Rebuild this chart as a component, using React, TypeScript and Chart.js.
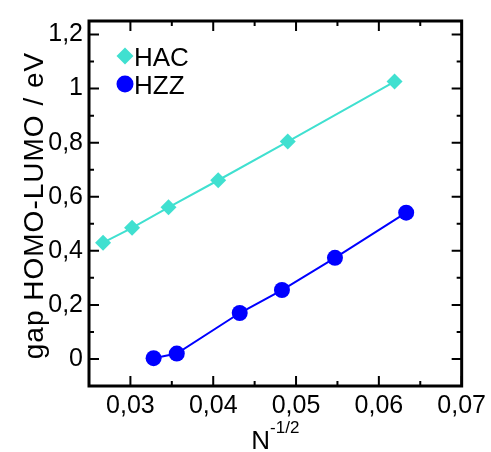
import React, { useEffect, useRef } from "react";
import { Chart, registerables } from "chart.js";

Chart.register(...registerables);

const hacX = [0.0267, 0.0302, 0.0346, 0.0406, 0.049, 0.0619];
const hacY = [0.43, 0.485, 0.561, 0.661, 0.804, 1.026];
const hzzX = [0.0328, 0.0356, 0.0432, 0.0483, 0.0547, 0.0633];
const hzzY = [0.003, 0.02, 0.17, 0.255, 0.374, 0.541];
const xTicks = [0.03, 0.04, 0.05, 0.06, 0.07];
const xMinor = [0.025, 0.035, 0.045, 0.055, 0.065];
const yTicks = [0, 0.2, 0.4, 0.6, 0.8, 1.0, 1.2];
const yMinor = [-0.1, 0.1, 0.3, 0.5, 0.7, 0.9, 1.1];
const seriesNames = ["HAC", "HZZ"];
const colors = ["#40E0D0", "#0000FF"];
const yTitle = "gap HOMO-LUMO / eV";
const xTitleBase = "N";
const xTitleSup = "-1/2";

const FONT = "'Liberation Sans', Arial, sans-serif";

const fmtX = (v: number) => v.toFixed(2).replace(".", ",");
const fmtY = (v: number) => (Math.abs(v - Math.round(v)) < 1e-9 ? String(Math.round(v)) : v.toFixed(1).replace(".", ","));

const framePlugin = {
  id: "frame",
  afterDraw(chart: any) {
    const { ctx, chartArea: a, scales } = chart;
    const xs = scales.x;
    const ys = scales.y;
    ctx.save();
    ctx.strokeStyle = "#000";
    ctx.lineWidth = 2;
    const tick = (px: number, major: boolean, axis: "x" | "y") => {
      const L = major ? 10 : 5;
      ctx.beginPath();
      if (axis === "x") {
        ctx.moveTo(px, a.bottom);
        ctx.lineTo(px, a.bottom - L);
        ctx.moveTo(px, a.top);
        ctx.lineTo(px, a.top + L);
      } else {
        ctx.moveTo(a.left, px);
        ctx.lineTo(a.left + L, px);
        ctx.moveTo(a.right, px);
        ctx.lineTo(a.right - L, px);
      }
      ctx.stroke();
    };
    xTicks.forEach((v) => tick(xs.getPixelForValue(v), true, "x"));
    xMinor.forEach((v) => tick(xs.getPixelForValue(v), false, "x"));
    yTicks.forEach((v) => tick(ys.getPixelForValue(v), true, "y"));
    yMinor.forEach((v) => tick(ys.getPixelForValue(v), false, "y"));
    ctx.lineWidth = 3;
    ctx.strokeRect(a.left, a.top, a.right - a.left, a.bottom - a.top);

    // legend
    ctx.fillStyle = colors[0];
    const lx = 125;
    let ly = 56;
    ctx.beginPath();
    ctx.moveTo(lx, ly - 8.5);
    ctx.lineTo(lx + 8.5, ly);
    ctx.lineTo(lx, ly + 8.5);
    ctx.lineTo(lx - 8.5, ly);
    ctx.closePath();
    ctx.fill();
    ctx.fillStyle = colors[1];
    ly = 84;
    ctx.beginPath();
    ctx.arc(lx, ly, 8.5, 0, Math.PI * 2);
    ctx.fill();
    ctx.fillStyle = "#000";
    ctx.font = `26px ${FONT}`;
    ctx.textAlign = "left";
    ctx.textBaseline = "alphabetic";
    ctx.fillText(seriesNames[0], 134, 66);
    ctx.fillText(seriesNames[1], 134, 94);

    // x title
    ctx.font = `26px ${FONT}`;
    const wN = ctx.measureText(xTitleBase).width;
    ctx.font = `17px ${FONT}`;
    const wS = ctx.measureText(xTitleSup).width;
    const cx = (a.left + a.right) / 2;
    const x0 = cx - (wN + wS) / 2;
    ctx.font = `26px ${FONT}`;
    ctx.fillText(xTitleBase, x0, 449);
    ctx.font = `17px ${FONT}`;
    ctx.fillText(xTitleSup, x0 + wN, 433);

    // y title
    ctx.translate(43, (a.top + a.bottom) / 2 + 2);
    ctx.rotate(-Math.PI / 2);
    ctx.font = `28px ${FONT}`;
    try {
      (ctx as any).letterSpacing = "1px";
    } catch (e) {}
    ctx.textAlign = "center";
    ctx.fillText(yTitle, 0, 0);
    ctx.restore();
  },
};

export default function App() {
  const ref = useRef<HTMLCanvasElement | null>(null);
  useEffect(() => {
    if (!ref.current) return;
    const mk = (xs: number[], ys: number[]) => xs.map((x, i) => ({ x, y: ys[i] }));
    const chart = new Chart(ref.current, {
      type: "line",
      data: {
        datasets: [
          {
            label: seriesNames[0],
            data: mk(hacX, hacY),
            borderColor: colors[0],
            backgroundColor: colors[0],
            borderWidth: 2,
            pointStyle: "rectRot",
            pointRadius: 8,
            pointBorderWidth: 0,
            tension: 0,
          },
          {
            label: seriesNames[1],
            data: mk(hzzX, hzzY),
            borderColor: colors[1],
            backgroundColor: colors[1],
            borderWidth: 2,
            pointStyle: "circle",
            pointRadius: 8,
            pointBorderWidth: 0,
            tension: 0,
          },
        ],
      },
      options: {
        animation: false,
        responsive: false,
        devicePixelRatio: 1,
        layout: { padding: { top: 13, right: 28, left: 0, bottom: 0 } },
        plugins: { legend: { display: false }, tooltip: { enabled: false } },
        scales: {
          x: {
            type: "linear",
            min: 0.025,
            max: 0.07,
            afterBuildTicks: (s: any) => {
              s.ticks = xTicks.map((v) => ({ value: v }));
            },
            afterFit: (s: any) => {
              s.height = 66;
            },
            grid: { display: false, drawTicks: false },
            border: { display: false },
            ticks: {
              color: "#000",
              font: { family: FONT, size: 25 },
              padding: 5,
              maxRotation: 0,
              autoSkip: false,
              callback: (v: any) => fmtX(Number(v)),
            },
          },
          y: {
            type: "linear",
            min: -0.1,
            max: 1.25,
            afterBuildTicks: (s: any) => {
              s.ticks = yTicks.map((v) => ({ value: v }));
            },
            afterFit: (s: any) => {
              s.width = 89;
            },
            grid: { display: false, drawTicks: false },
            border: { display: false },
            ticks: {
              color: "#000",
              font: { family: FONT, size: 25 },
              padding: 6,
              autoSkip: false,
              callback: (v: any) => fmtY(Number(v)),
            },
          },
        },
      },
      plugins: [framePlugin],
    });
    return () => chart.destroy();
  }, []);
  return (
    <div style={{ position: "fixed", left: 0, top: 0, width: 491, height: 452 }}>
      <canvas ref={ref} width={491} height={452} />
    </div>
  );
}
